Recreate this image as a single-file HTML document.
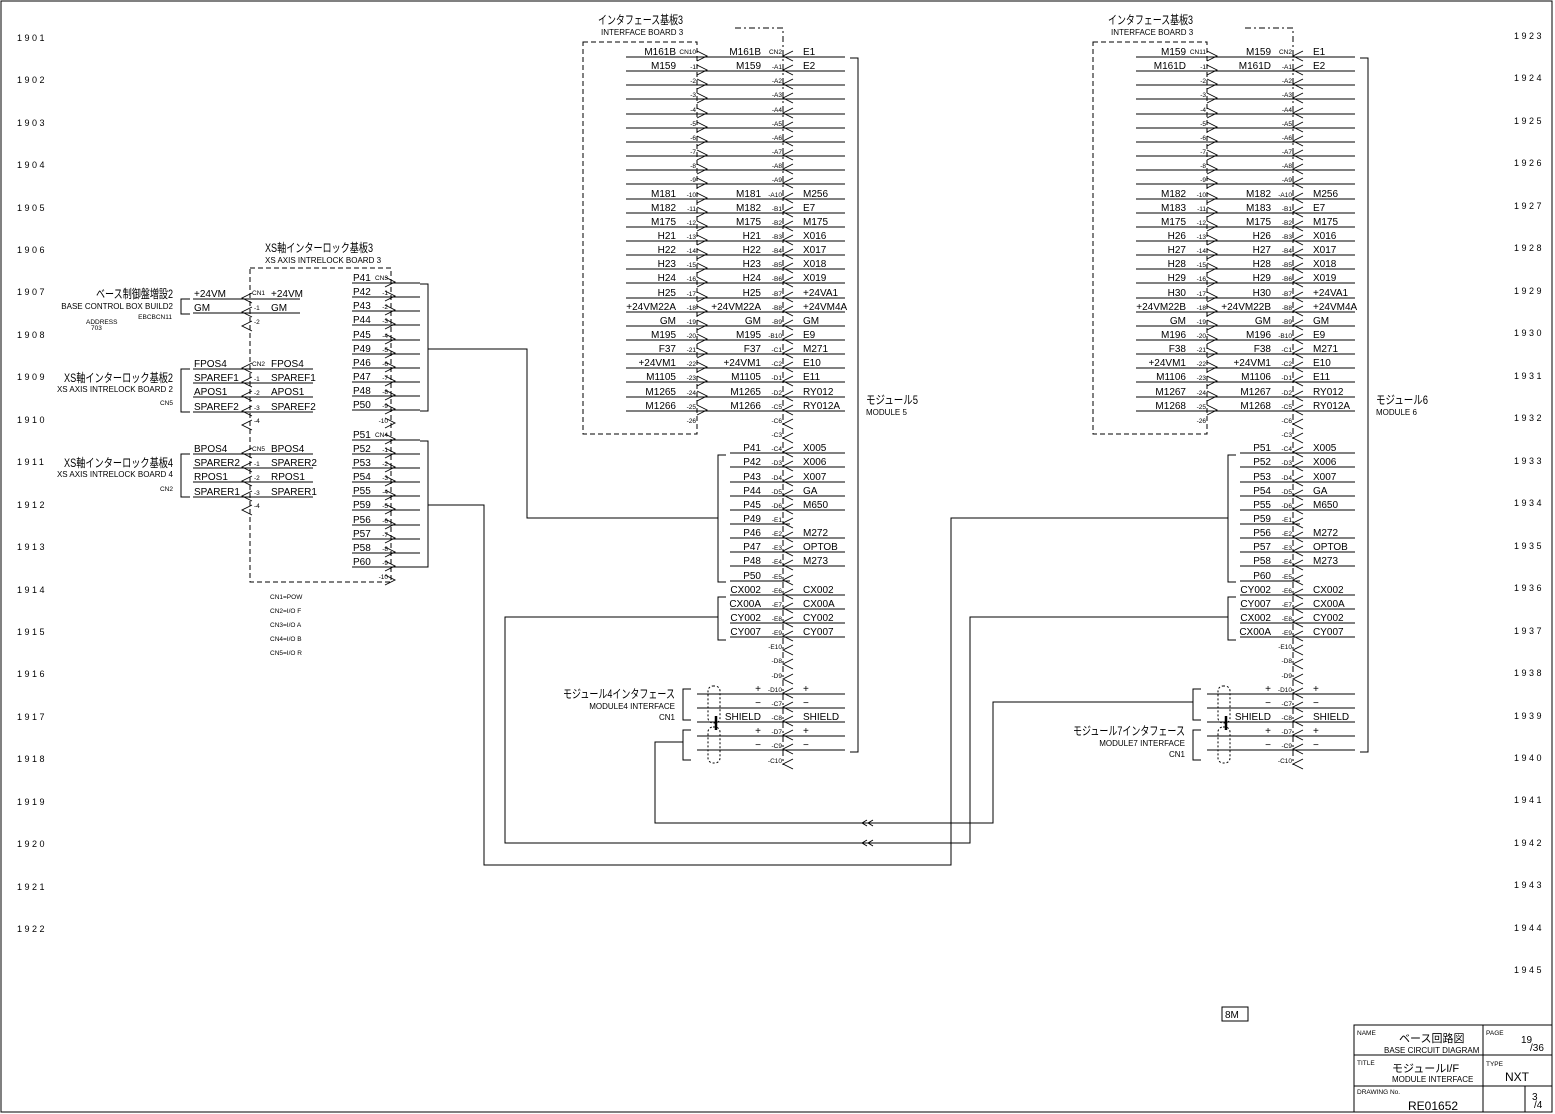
<!DOCTYPE html>
<html><head><meta charset="utf-8"><style>
html,body{margin:0;padding:0;background:#fff}
svg{display:block}
text{font-family:"Liberation Sans","Noto Sans CJK JP",sans-serif;fill:#000}
.t{font-size:10px}
.s{font-size:6.5px}
.m{font-size:8px}
.j{font-size:12px}
.e{text-anchor:end}
.n{font-size:9px;letter-spacing:2.5px}
</style></head><body>
<svg width="1555" height="1114" viewBox="0 0 1555 1114" xmlns="http://www.w3.org/2000/svg">
<defs>
<path id="gt" d="M0,-6 L10,-1 L0,4" fill="none" stroke="#000" stroke-width="0.9"/>
<path id="lt" d="M10,-6 L0,-1 L10,4" fill="none" stroke="#000" stroke-width="0.9"/>
<g id="mod" fill="none" stroke="#000" stroke-width="1">
<rect x="583" y="42" width="114" height="392" stroke-dasharray="5,3"/>
<path d="M735,28 H783 V765" stroke-dasharray="6,3,2,3"/>
<path d="M626,57H845M626,71H845M626,85H845M626,99H845M626,114H845M626,128H845M626,142H845M626,156H845M626,170H845M626,184H845M626,199H845M626,213H845M626,227H845M626,241H845M626,255H845M626,269H845M626,283H845M626,298H845M626,312H845M626,326H845M626,340H845M626,354H845M626,368H845M626,382H845M626,397H845M626,411H845"/>
<path d="M730,453H845M730,467H845M730,482H845M730,496H845M730,510H845M730,524H790M730,538H845M730,552H845M730,566H845M730,581H790M730,595H845M730,609H845M730,623H845M730,637H845"/>
<path d="M697,694H845M697,708H845M697,722H845M697,736H845M697,750H845"/>
<path d="M850,58H858V752H850M726,455H718V582H726M726,597H718V640H726M691,689H683V720H691M691,730H683V760H691"/>
<rect x="708" y="686" width="12" height="37" rx="5" stroke-dasharray="2,2"/>
<rect x="708" y="727" width="12" height="36" rx="5" stroke-dasharray="2,2"/>
<path d="M716,716V730" stroke-width="2.5"/>
<use href="#gt" x="697" y="57"/><use href="#gt" x="697" y="71"/><use href="#gt" x="697" y="85"/><use href="#gt" x="697" y="99"/><use href="#gt" x="697" y="114"/><use href="#gt" x="697" y="128"/><use href="#gt" x="697" y="142"/><use href="#gt" x="697" y="156"/><use href="#gt" x="697" y="170"/><use href="#gt" x="697" y="184"/><use href="#gt" x="697" y="199"/><use href="#gt" x="697" y="213"/><use href="#gt" x="697" y="227"/><use href="#gt" x="697" y="241"/><use href="#gt" x="697" y="255"/><use href="#gt" x="697" y="269"/><use href="#gt" x="697" y="283"/><use href="#gt" x="697" y="298"/><use href="#gt" x="697" y="312"/><use href="#gt" x="697" y="326"/><use href="#gt" x="697" y="340"/><use href="#gt" x="697" y="354"/><use href="#gt" x="697" y="368"/><use href="#gt" x="697" y="382"/><use href="#gt" x="697" y="397"/><use href="#gt" x="697" y="411"/>
<use href="#lt" x="783" y="57"/><use href="#lt" x="783" y="71"/><use href="#lt" x="783" y="85"/><use href="#lt" x="783" y="99"/><use href="#lt" x="783" y="114"/><use href="#lt" x="783" y="128"/><use href="#lt" x="783" y="142"/><use href="#lt" x="783" y="156"/><use href="#lt" x="783" y="170"/><use href="#lt" x="783" y="184"/><use href="#lt" x="783" y="199"/><use href="#lt" x="783" y="213"/><use href="#lt" x="783" y="227"/><use href="#lt" x="783" y="241"/><use href="#lt" x="783" y="255"/><use href="#lt" x="783" y="269"/><use href="#lt" x="783" y="283"/><use href="#lt" x="783" y="298"/><use href="#lt" x="783" y="312"/><use href="#lt" x="783" y="326"/><use href="#lt" x="783" y="340"/><use href="#lt" x="783" y="354"/><use href="#lt" x="783" y="368"/><use href="#lt" x="783" y="382"/><use href="#lt" x="783" y="397"/><use href="#lt" x="783" y="411"/><use href="#lt" x="783" y="425"/><use href="#lt" x="783" y="439"/><use href="#lt" x="783" y="453"/><use href="#lt" x="783" y="467"/><use href="#lt" x="783" y="482"/><use href="#lt" x="783" y="496"/><use href="#lt" x="783" y="510"/><use href="#lt" x="783" y="524"/><use href="#lt" x="783" y="538"/><use href="#lt" x="783" y="552"/><use href="#lt" x="783" y="566"/><use href="#lt" x="783" y="581"/><use href="#lt" x="783" y="595"/><use href="#lt" x="783" y="609"/><use href="#lt" x="783" y="623"/><use href="#lt" x="783" y="637"/><use href="#lt" x="783" y="651"/><use href="#lt" x="783" y="665"/><use href="#lt" x="783" y="680"/><use href="#lt" x="783" y="694"/><use href="#lt" x="783" y="708"/><use href="#lt" x="783" y="722"/><use href="#lt" x="783" y="736"/><use href="#lt" x="783" y="750"/><use href="#lt" x="783" y="765"/>
</g>
</defs>

<rect x="1" y="1" width="1551" height="1111" fill="none" stroke="#000" stroke-width="1"/>

<use href="#mod"/>
<use href="#mod" x="510"/>

<g fill="none" stroke="#000" stroke-width="1">
<path d="M718,518H527V349H428"/>
<path d="M428,505H484V865H951V518H1228"/>
<path d="M718,617H505V843H970V617H1228"/>
<path d="M683,742H655V823H993V702H1193"/>
<path d="M420,284H428V411H420M420,441H428V567H420"/>
<path d="M862,823l5,-3M862,823l5,3M868,823l5,-3M868,823l5,3M862,843l5,-3M862,843l5,3M868,843l5,-3M868,843l5,3"/>
<rect x="250" y="268" width="141" height="314" stroke-dasharray="5,3"/>
<path d="M193,299H300M193,313H300M193,369H313M193,383H313M193,397H313M193,412H313M193,454H313M193,468H313M193,482H313M193,497H313"/>
<path d="M190,299H181V314H190M190,369H181V412H190M190,454H181V497H190"/>
<path d="M352,283H420M352,297H420M352,311H420M352,325H420M352,340H420M352,354H420M352,368H420M352,382H420M352,396H420M352,410H420M352,440H420M352,454H420M352,468H420M352,482H420M352,496H420M352,510H420M352,525H420M352,539H420M352,553H420M352,567H420"/>
<rect x="1354" y="1025" width="198" height="87"/>
<path d="M1354,1055H1552M1354,1086H1552M1483,1025V1112M1525,1086V1112"/>
<rect x="1222" y="1007" width="26" height="14"/>
</g>
<g>
<use href="#lt" x="242" y="299"/><use href="#lt" x="242" y="313"/><use href="#lt" x="242" y="327"/>
<use href="#lt" x="242" y="369"/><use href="#lt" x="242" y="383"/><use href="#lt" x="242" y="397"/><use href="#lt" x="242" y="412"/><use href="#lt" x="242" y="426"/>
<use href="#lt" x="242" y="454"/><use href="#lt" x="242" y="468"/><use href="#lt" x="242" y="482"/><use href="#lt" x="242" y="497"/><use href="#lt" x="242" y="511"/>
<use href="#gt" x="385" y="283"/><use href="#gt" x="385" y="297"/><use href="#gt" x="385" y="311"/><use href="#gt" x="385" y="325"/><use href="#gt" x="385" y="340"/><use href="#gt" x="385" y="354"/><use href="#gt" x="385" y="368"/><use href="#gt" x="385" y="382"/><use href="#gt" x="385" y="396"/><use href="#gt" x="385" y="410"/><use href="#gt" x="385" y="424"/>
<use href="#gt" x="385" y="440"/><use href="#gt" x="385" y="454"/><use href="#gt" x="385" y="468"/><use href="#gt" x="385" y="482"/><use href="#gt" x="385" y="496"/><use href="#gt" x="385" y="510"/><use href="#gt" x="385" y="525"/><use href="#gt" x="385" y="539"/><use href="#gt" x="385" y="553"/><use href="#gt" x="385" y="567"/><use href="#gt" x="385" y="581"/>
</g>

<g class="n">
<text x="17" y="41">1901</text><text x="17" y="83">1902</text><text x="17" y="126">1903</text><text x="17" y="168">1904</text><text x="17" y="211">1905</text><text x="17" y="253">1906</text><text x="17" y="295">1907</text><text x="17" y="338">1908</text><text x="17" y="380">1909</text><text x="17" y="423">1910</text><text x="17" y="465">1911</text><text x="17" y="508">1912</text><text x="17" y="550">1913</text><text x="17" y="593">1914</text><text x="17" y="635">1915</text><text x="17" y="677">1916</text><text x="17" y="720">1917</text><text x="17" y="762">1918</text><text x="17" y="805">1919</text><text x="17" y="847">1920</text><text x="17" y="890">1921</text><text x="17" y="932">1922</text>
<text x="1514" y="39">1923</text><text x="1514" y="81">1924</text><text x="1514" y="124">1925</text><text x="1514" y="166">1926</text><text x="1514" y="209">1927</text><text x="1514" y="251">1928</text><text x="1514" y="294">1929</text><text x="1514" y="336">1930</text><text x="1514" y="379">1931</text><text x="1514" y="421">1932</text><text x="1514" y="464">1933</text><text x="1514" y="506">1934</text><text x="1514" y="549">1935</text><text x="1514" y="591">1936</text><text x="1514" y="634">1937</text><text x="1514" y="676">1938</text><text x="1514" y="719">1939</text><text x="1514" y="761">1940</text><text x="1514" y="803">1941</text><text x="1514" y="846">1942</text><text x="1514" y="888">1943</text><text x="1514" y="931">1944</text><text x="1514" y="973">1945</text>
</g>

<!-- Module 5 texts -->
<text class="j" x="598" y="24" textLength="85" lengthAdjust="spacingAndGlyphs">インタフェース基板3</text><text class="m" x="601" y="35">INTERFACE BOARD 3</text>
<text class="j" x="866" y="404" textLength="52" lengthAdjust="spacingAndGlyphs">モジュール5</text><text class="m" x="866" y="415">MODULE 5</text>
<text class="j" x="563" y="698" textLength="112" lengthAdjust="spacingAndGlyphs">モジュール4インタフェース</text><text class="m e" x="675" y="709">MODULE4 INTERFACE</text><text class="m e" x="675" y="720">CN1</text>
<g class="t e">
<text x="676" y="55">M161B</text><text x="676" y="69">M159</text><text x="676" y="197">M181</text><text x="676" y="211">M182</text><text x="676" y="225">M175</text><text x="676" y="239">H21</text><text x="676" y="253">H22</text><text x="676" y="267">H23</text><text x="676" y="281">H24</text><text x="676" y="296">H25</text><text x="676" y="310">+24VM22A</text><text x="676" y="324">GM</text><text x="676" y="338">M195</text><text x="676" y="352">F37</text><text x="676" y="366">+24VM1</text><text x="676" y="380">M1105</text><text x="676" y="395">M1265</text><text x="676" y="409">M1266</text>
<text x="761" y="55">M161B</text><text x="761" y="69">M159</text><text x="761" y="197">M181</text><text x="761" y="211">M182</text><text x="761" y="225">M175</text><text x="761" y="239">H21</text><text x="761" y="253">H22</text><text x="761" y="267">H23</text><text x="761" y="281">H24</text><text x="761" y="296">H25</text><text x="761" y="310">+24VM22A</text><text x="761" y="324">GM</text><text x="761" y="338">M195</text><text x="761" y="352">F37</text><text x="761" y="366">+24VM1</text><text x="761" y="380">M1105</text><text x="761" y="395">M1265</text><text x="761" y="409">M1266</text>
<text x="761" y="451">P41</text><text x="761" y="465">P42</text><text x="761" y="480">P43</text><text x="761" y="494">P44</text><text x="761" y="508">P45</text><text x="761" y="522">P49</text><text x="761" y="536">P46</text><text x="761" y="550">P47</text><text x="761" y="564">P48</text><text x="761" y="579">P50</text><text x="761" y="593">CX002</text><text x="761" y="607">CX00A</text><text x="761" y="621">CY002</text><text x="761" y="635">CY007</text><text x="761" y="692">+</text><text x="761" y="706">−</text><text x="761" y="720">SHIELD</text><text x="761" y="734">+</text><text x="761" y="748">−</text>
</g>
<g class="t">
<text x="803" y="55">E1</text><text x="803" y="69">E2</text><text x="803" y="197">M256</text><text x="803" y="211">E7</text><text x="803" y="225">M175</text><text x="803" y="239">X016</text><text x="803" y="253">X017</text><text x="803" y="267">X018</text><text x="803" y="281">X019</text><text x="803" y="296">+24VA1</text><text x="803" y="310">+24VM4A</text><text x="803" y="324">GM</text><text x="803" y="338">E9</text><text x="803" y="352">M271</text><text x="803" y="366">E10</text><text x="803" y="380">E11</text><text x="803" y="395">RY012</text><text x="803" y="409">RY012A</text>
<text x="803" y="451">X005</text><text x="803" y="465">X006</text><text x="803" y="480">X007</text><text x="803" y="494">GA</text><text x="803" y="508">M650</text><text x="803" y="536">M272</text><text x="803" y="550">OPTOB</text><text x="803" y="564">M273</text><text x="803" y="593">CX002</text><text x="803" y="607">CX00A</text><text x="803" y="621">CY002</text><text x="803" y="635">CY007</text><text x="803" y="692">+</text><text x="803" y="706">−</text><text x="803" y="720">SHIELD</text><text x="803" y="734">+</text><text x="803" y="748">−</text>
</g>
<g class="s e">
<text x="696" y="54">CN10</text><text x="696" y="69">-1</text><text x="696" y="83">-2</text><text x="696" y="97">-3</text><text x="696" y="112">-4</text><text x="696" y="126">-5</text><text x="696" y="140">-6</text><text x="696" y="154">-7</text><text x="696" y="168">-8</text><text x="696" y="182">-9</text><text x="696" y="197">-10</text><text x="696" y="211">-11</text><text x="696" y="225">-12</text><text x="696" y="239">-13</text><text x="696" y="253">-14</text><text x="696" y="267">-15</text><text x="696" y="281">-16</text><text x="696" y="296">-17</text><text x="696" y="310">-18</text><text x="696" y="324">-19</text><text x="696" y="338">-20</text><text x="696" y="352">-21</text><text x="696" y="366">-22</text><text x="696" y="380">-23</text><text x="696" y="395">-24</text><text x="696" y="409">-25</text><text x="696" y="423">-26</text>
<text x="782" y="54">CN2</text><text x="782" y="69">-A1</text><text x="782" y="83">-A2</text><text x="782" y="97">-A3</text><text x="782" y="112">-A4</text><text x="782" y="126">-A5</text><text x="782" y="140">-A6</text><text x="782" y="154">-A7</text><text x="782" y="168">-A8</text><text x="782" y="182">-A9</text><text x="782" y="197">-A10</text><text x="782" y="211">-B1</text><text x="782" y="225">-B2</text><text x="782" y="239">-B3</text><text x="782" y="253">-B4</text><text x="782" y="267">-B5</text><text x="782" y="281">-B6</text><text x="782" y="296">-B7</text><text x="782" y="310">-B8</text><text x="782" y="324">-B9</text><text x="782" y="338">-B10</text><text x="782" y="352">-C1</text><text x="782" y="366">-C2</text><text x="782" y="380">-D1</text><text x="782" y="395">-D2</text><text x="782" y="409">-C5</text><text x="782" y="423">-C6</text><text x="782" y="437">-C3</text><text x="782" y="451">-C4</text><text x="782" y="465">-D3</text><text x="782" y="480">-D4</text><text x="782" y="494">-D5</text><text x="782" y="508">-D6</text><text x="782" y="522">-E1</text><text x="782" y="536">-E2</text><text x="782" y="550">-E3</text><text x="782" y="564">-E4</text><text x="782" y="579">-E5</text><text x="782" y="593">-E6</text><text x="782" y="607">-E7</text><text x="782" y="621">-E8</text><text x="782" y="635">-E9</text><text x="782" y="649">-E10</text><text x="782" y="663">-D8</text><text x="782" y="678">-D9</text><text x="782" y="692">-D10</text><text x="782" y="706">-C7</text><text x="782" y="720">-C8</text><text x="782" y="734">-D7</text><text x="782" y="748">-C9</text><text x="782" y="763">-C10</text>
</g>

<!-- Module 6 texts -->
<text class="j" x="1108" y="24" textLength="85" lengthAdjust="spacingAndGlyphs">インタフェース基板3</text><text class="m" x="1111" y="35">INTERFACE BOARD 3</text>
<text class="j" x="1376" y="404" textLength="52" lengthAdjust="spacingAndGlyphs">モジュール6</text><text class="m" x="1376" y="415">MODULE 6</text>
<text class="j" x="1073" y="735" textLength="112" lengthAdjust="spacingAndGlyphs">モジュール7インタフェース</text><text class="m e" x="1185" y="746">MODULE7 INTERFACE</text><text class="m e" x="1185" y="757">CN1</text>
<g class="t e">
<text x="1186" y="55">M159</text><text x="1186" y="69">M161D</text><text x="1186" y="197">M182</text><text x="1186" y="211">M183</text><text x="1186" y="225">M175</text><text x="1186" y="239">H26</text><text x="1186" y="253">H27</text><text x="1186" y="267">H28</text><text x="1186" y="281">H29</text><text x="1186" y="296">H30</text><text x="1186" y="310">+24VM22B</text><text x="1186" y="324">GM</text><text x="1186" y="338">M196</text><text x="1186" y="352">F38</text><text x="1186" y="366">+24VM1</text><text x="1186" y="380">M1106</text><text x="1186" y="395">M1267</text><text x="1186" y="409">M1268</text>
<text x="1271" y="55">M159</text><text x="1271" y="69">M161D</text><text x="1271" y="197">M182</text><text x="1271" y="211">M183</text><text x="1271" y="225">M175</text><text x="1271" y="239">H26</text><text x="1271" y="253">H27</text><text x="1271" y="267">H28</text><text x="1271" y="281">H29</text><text x="1271" y="296">H30</text><text x="1271" y="310">+24VM22B</text><text x="1271" y="324">GM</text><text x="1271" y="338">M196</text><text x="1271" y="352">F38</text><text x="1271" y="366">+24VM1</text><text x="1271" y="380">M1106</text><text x="1271" y="395">M1267</text><text x="1271" y="409">M1268</text>
<text x="1271" y="451">P51</text><text x="1271" y="465">P52</text><text x="1271" y="480">P53</text><text x="1271" y="494">P54</text><text x="1271" y="508">P55</text><text x="1271" y="522">P59</text><text x="1271" y="536">P56</text><text x="1271" y="550">P57</text><text x="1271" y="564">P58</text><text x="1271" y="579">P60</text><text x="1271" y="593">CY002</text><text x="1271" y="607">CY007</text><text x="1271" y="621">CX002</text><text x="1271" y="635">CX00A</text><text x="1271" y="692">+</text><text x="1271" y="706">−</text><text x="1271" y="720">SHIELD</text><text x="1271" y="734">+</text><text x="1271" y="748">−</text>
</g>
<g class="t">
<text x="1313" y="55">E1</text><text x="1313" y="69">E2</text><text x="1313" y="197">M256</text><text x="1313" y="211">E7</text><text x="1313" y="225">M175</text><text x="1313" y="239">X016</text><text x="1313" y="253">X017</text><text x="1313" y="267">X018</text><text x="1313" y="281">X019</text><text x="1313" y="296">+24VA1</text><text x="1313" y="310">+24VM4A</text><text x="1313" y="324">GM</text><text x="1313" y="338">E9</text><text x="1313" y="352">M271</text><text x="1313" y="366">E10</text><text x="1313" y="380">E11</text><text x="1313" y="395">RY012</text><text x="1313" y="409">RY012A</text>
<text x="1313" y="451">X005</text><text x="1313" y="465">X006</text><text x="1313" y="480">X007</text><text x="1313" y="494">GA</text><text x="1313" y="508">M650</text><text x="1313" y="536">M272</text><text x="1313" y="550">OPTOB</text><text x="1313" y="564">M273</text><text x="1313" y="593">CX002</text><text x="1313" y="607">CX00A</text><text x="1313" y="621">CY002</text><text x="1313" y="635">CY007</text><text x="1313" y="692">+</text><text x="1313" y="706">−</text><text x="1313" y="720">SHIELD</text><text x="1313" y="734">+</text><text x="1313" y="748">−</text>
</g>
<g class="s e">
<text x="1206" y="54">CN11</text><text x="1206" y="69">-1</text><text x="1206" y="83">-2</text><text x="1206" y="97">-3</text><text x="1206" y="112">-4</text><text x="1206" y="126">-5</text><text x="1206" y="140">-6</text><text x="1206" y="154">-7</text><text x="1206" y="168">-8</text><text x="1206" y="182">-9</text><text x="1206" y="197">-10</text><text x="1206" y="211">-11</text><text x="1206" y="225">-12</text><text x="1206" y="239">-13</text><text x="1206" y="253">-14</text><text x="1206" y="267">-15</text><text x="1206" y="281">-16</text><text x="1206" y="296">-17</text><text x="1206" y="310">-18</text><text x="1206" y="324">-19</text><text x="1206" y="338">-20</text><text x="1206" y="352">-21</text><text x="1206" y="366">-22</text><text x="1206" y="380">-23</text><text x="1206" y="395">-24</text><text x="1206" y="409">-25</text><text x="1206" y="423">-26</text>
<text x="1292" y="54">CN2</text><text x="1292" y="69">-A1</text><text x="1292" y="83">-A2</text><text x="1292" y="97">-A3</text><text x="1292" y="112">-A4</text><text x="1292" y="126">-A5</text><text x="1292" y="140">-A6</text><text x="1292" y="154">-A7</text><text x="1292" y="168">-A8</text><text x="1292" y="182">-A9</text><text x="1292" y="197">-A10</text><text x="1292" y="211">-B1</text><text x="1292" y="225">-B2</text><text x="1292" y="239">-B3</text><text x="1292" y="253">-B4</text><text x="1292" y="267">-B5</text><text x="1292" y="281">-B6</text><text x="1292" y="296">-B7</text><text x="1292" y="310">-B8</text><text x="1292" y="324">-B9</text><text x="1292" y="338">-B10</text><text x="1292" y="352">-C1</text><text x="1292" y="366">-C2</text><text x="1292" y="380">-D1</text><text x="1292" y="395">-D2</text><text x="1292" y="409">-C5</text><text x="1292" y="423">-C6</text><text x="1292" y="437">-C3</text><text x="1292" y="451">-C4</text><text x="1292" y="465">-D3</text><text x="1292" y="480">-D4</text><text x="1292" y="494">-D5</text><text x="1292" y="508">-D6</text><text x="1292" y="522">-E1</text><text x="1292" y="536">-E2</text><text x="1292" y="550">-E3</text><text x="1292" y="564">-E4</text><text x="1292" y="579">-E5</text><text x="1292" y="593">-E6</text><text x="1292" y="607">-E7</text><text x="1292" y="621">-E8</text><text x="1292" y="635">-E9</text><text x="1292" y="649">-E10</text><text x="1292" y="663">-D8</text><text x="1292" y="678">-D9</text><text x="1292" y="692">-D10</text><text x="1292" y="706">-C7</text><text x="1292" y="720">-C8</text><text x="1292" y="734">-D7</text><text x="1292" y="748">-C9</text><text x="1292" y="763">-C10</text>
</g>

<!-- XS area -->
<text class="j" x="265" y="252" textLength="108" lengthAdjust="spacingAndGlyphs">XS軸インターロック基板3</text><text class="m" x="265" y="263">XS AXIS INTRELOCK BOARD 3</text>
<text class="j" x="96" y="298" textLength="77" lengthAdjust="spacingAndGlyphs">ベース制御盤増設2</text><text class="m e" x="173" y="309">BASE CONTROL BOX BUILD2</text>
<text class="s e" x="172" y="319">EBCBCN11</text><text class="s" x="86" y="324">ADDRESS</text><text class="s" x="91" y="330">703</text>
<text class="j" x="64" y="382" textLength="109" lengthAdjust="spacingAndGlyphs">XS軸インターロック基板2</text><text class="m e" x="173" y="392">XS AXIS INTRELOCK BOARD 2</text><text class="s e" x="173" y="405">CN5</text>
<text class="j" x="64" y="467" textLength="109" lengthAdjust="spacingAndGlyphs">XS軸インターロック基板4</text><text class="m e" x="173" y="477">XS AXIS INTRELOCK BOARD 4</text><text class="s e" x="173" y="491">CN2</text>
<g class="t">
<text x="194" y="297">+24VM</text><text x="271" y="297">+24VM</text><text x="194" y="311">GM</text><text x="271" y="311">GM</text>
<text x="194" y="367">FPOS4</text><text x="271" y="367">FPOS4</text><text x="194" y="381">SPAREF1</text><text x="271" y="381">SPAREF1</text><text x="194" y="395">APOS1</text><text x="271" y="395">APOS1</text><text x="194" y="410">SPAREF2</text><text x="271" y="410">SPAREF2</text>
<text x="194" y="452">BPOS4</text><text x="271" y="452">BPOS4</text><text x="194" y="466">SPARER2</text><text x="271" y="466">SPARER2</text><text x="194" y="480">RPOS1</text><text x="271" y="480">RPOS1</text><text x="194" y="495">SPARER1</text><text x="271" y="495">SPARER1</text>
<text x="353" y="281">P41</text><text x="353" y="295">P42</text><text x="353" y="309">P43</text><text x="353" y="323">P44</text><text x="353" y="338">P45</text><text x="353" y="352">P49</text><text x="353" y="366">P46</text><text x="353" y="380">P47</text><text x="353" y="394">P48</text><text x="353" y="408">P50</text>
<text x="353" y="438">P51</text><text x="353" y="452">P52</text><text x="353" y="466">P53</text><text x="353" y="480">P54</text><text x="353" y="494">P55</text><text x="353" y="508">P59</text><text x="353" y="523">P56</text><text x="353" y="537">P57</text><text x="353" y="551">P58</text><text x="353" y="565">P60</text>
</g>
<g class="s">
<text x="252" y="295">CN1</text><text x="254" y="310">-1</text><text x="254" y="324">-2</text>
<text x="252" y="366">CN2</text><text x="254" y="381">-1</text><text x="254" y="395">-2</text><text x="254" y="410">-3</text><text x="254" y="423">-4</text>
<text x="252" y="451">CN5</text><text x="254" y="466">-1</text><text x="254" y="480">-2</text><text x="254" y="495">-3</text><text x="254" y="508">-4</text>
<text x="270" y="599">CN1=POW</text><text x="270" y="613">CN2=I/O F</text><text x="270" y="627">CN3=I/O A</text><text x="270" y="641">CN4=I/O B</text><text x="270" y="655">CN5=I/O R</text>
</g>
<g class="s e">
<text x="388" y="280">CN3</text><text x="388" y="295">-1</text><text x="388" y="309">-2</text><text x="388" y="323">-3</text><text x="388" y="338">-4</text><text x="388" y="352">-5</text><text x="388" y="366">-6</text><text x="388" y="380">-7</text><text x="388" y="394">-8</text><text x="388" y="408">-9</text><text x="388" y="423">-10</text>
<text x="388" y="437">CN4</text><text x="388" y="452">-1</text><text x="388" y="466">-2</text><text x="388" y="480">-3</text><text x="388" y="494">-4</text><text x="388" y="508">-5</text><text x="388" y="523">-6</text><text x="388" y="537">-7</text><text x="388" y="551">-8</text><text x="388" y="565">-9</text><text x="388" y="579">-10</text>
</g>

<!-- title block -->
<text class="t" x="1225" y="1018">8M</text>
<text class="s" x="1357" y="1035">NAME</text><text x="1399" y="1042" style="font-size:11px">ベース回路図</text><text class="m" x="1384" y="1053">BASE CIRCUIT DIAGRAM</text>
<text class="s" x="1486" y="1035">PAGE</text><text class="t" x="1521" y="1043">19</text><text class="t" x="1530" y="1051">/36</text>
<text class="s" x="1357" y="1065">TITLE</text><text x="1392" y="1072" style="font-size:11px">モジュールI/F</text><text class="m" x="1392" y="1082">MODULE INTERFACE</text>
<text class="s" x="1486" y="1066">TYPE</text><text class="j" x="1505" y="1081">NXT</text>
<text class="s" x="1357" y="1094">DRAWING No.</text><text class="j" x="1408" y="1110">RE01652</text>
<text class="t" x="1532" y="1100">3</text><text class="t" x="1534" y="1108">/4</text>
</svg>
</body></html>
